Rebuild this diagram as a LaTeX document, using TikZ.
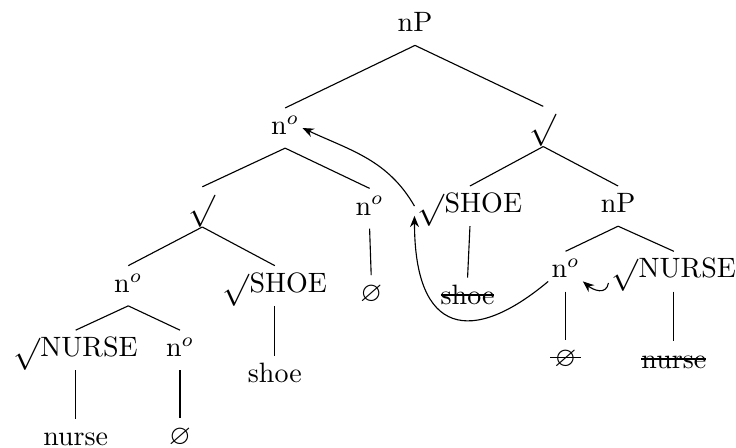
\documentclass[tikz,border=0pt]{standalone}
\usepackage{amsmath}
\usepackage{amssymb}
\usepackage{graphicx}
\usepackage{tikz}
\usetikzlibrary{arrows.meta}

% root sign, top level with the capitals
\newcommand{\rootmark}{\raisebox{-2pt}{\scalebox{1.15}{$\surd$}}}
% struck-out text, optional overhang on both sides
\newcommand{\struck}[2][0pt]{\sbox0{#2}\rlap{\usebox0}\kern-#1\rule[0.7ex]{\dimexpr\wd0+#1*2\relax}{0.5pt}\kern-#1}

\begin{document}
\begin{tikzpicture}[>={Stealth[length=4pt, width=3.2pt]},
    lbl/.style={anchor=base, inner xsep=1pt, inner ysep=3.33pt, text height=6pt, text depth=1.3pt}]

        \useasboundingbox (0,0) rectangle (9.24,5.62);

        % top of the tree
        \node[lbl] (top) at (5.21, 5.22) {nP};
        \node[lbl] (n1) at (3.58, 3.93) {n$^o$};
        \node[lbl] (r1) at (6.82, 3.95) {\rootmark};

        % second level
        \node[lbl] (r2) at (2.54, 2.94) {\rootmark};
        \node[lbl] (n2) at (4.64, 2.92) {n$^o$};
        \node[lbl] (shoeR) at (5.90, 2.95) {\rootmark SHOE};
        \node[lbl] (npR) at (7.76, 2.95) {nP};

        % third level
        \node[lbl] (n3) at (1.61, 1.95) {n$^o$};
        \node[lbl] (shoeL) at (3.45, 1.95) {\rootmark SHOE};
        \node[lbl] (nullM) at (4.66, 1.83) {$\varnothing$};
        \node[lbl] (shoeX) at (5.87, 1.80) {\struck{shoe}};
        \node[lbl] (n3R) at (7.10, 2.13) {n$^o$};
        \node[lbl] (nurseR) at (8.46, 2.13) {\rootmark NURSE};

        % lower levels
        \node[lbl] (nurseL) at (0.95, 1.14) {\rootmark NURSE};
        \node[lbl] (n4) at (2.26, 1.14) {n$^o$};
        \node[lbl] (shoeT) at (3.45, 0.82) {shoe};
        \node[lbl] (nullX) at (7.10, 1.02) {\struck[1.5pt]{$\varnothing$}};
        \node[lbl] (nurseX) at (8.46, 1.00) {\struck{nurse}};
        \node[lbl] (nurseT) at (0.95, 0.03) {nurse};
        \node[lbl] (nullL) at (2.26, 0.04) {$\varnothing$};

        % branches
        \draw (top.south) -- (n1.north);
        \draw (top.south) -- (r1.north);
        \draw (n1.south) -- (r2.north);
        \draw (n1.south) -- (n2.north);
        \draw (r1.south) -- (shoeR.north);
        \draw (r1.south) -- (npR.north);
        \draw (r2.south) -- (n3.north);
        \draw (r2.south) -- (shoeL.north);
        \draw (n2.south) -- (nullM.north);
        \draw (shoeR.south) -- (shoeX.north);
        \draw (npR.south) -- (n3R.north);
        \draw (npR.south) -- (nurseR.north);
        \draw (n3.south) -- (nurseL.north);
        \draw (n3.south) -- (n4.north);
        \draw (shoeL.south) -- (shoeT.north);
        \draw (n3R.south) -- (nullX.north);
        \draw (nurseR.south) -- (nurseX.north);
        \draw (nurseL.south) -- (nurseT.north);
        \draw (n4.south) -- (nullL.north);

        % movement arrows
        \draw[->] (nurseR.190) to[out=-100, in=-40, looseness=1.3] (n3R.-30);
        \draw[->] (n3R.210) .. controls +(220:1.25) and +(-90:1.5) .. (shoeR.190);
        \draw[->] (shoeR.west) to[out=120, in=-25] (n1.east);

\end{tikzpicture}
\end{document}
